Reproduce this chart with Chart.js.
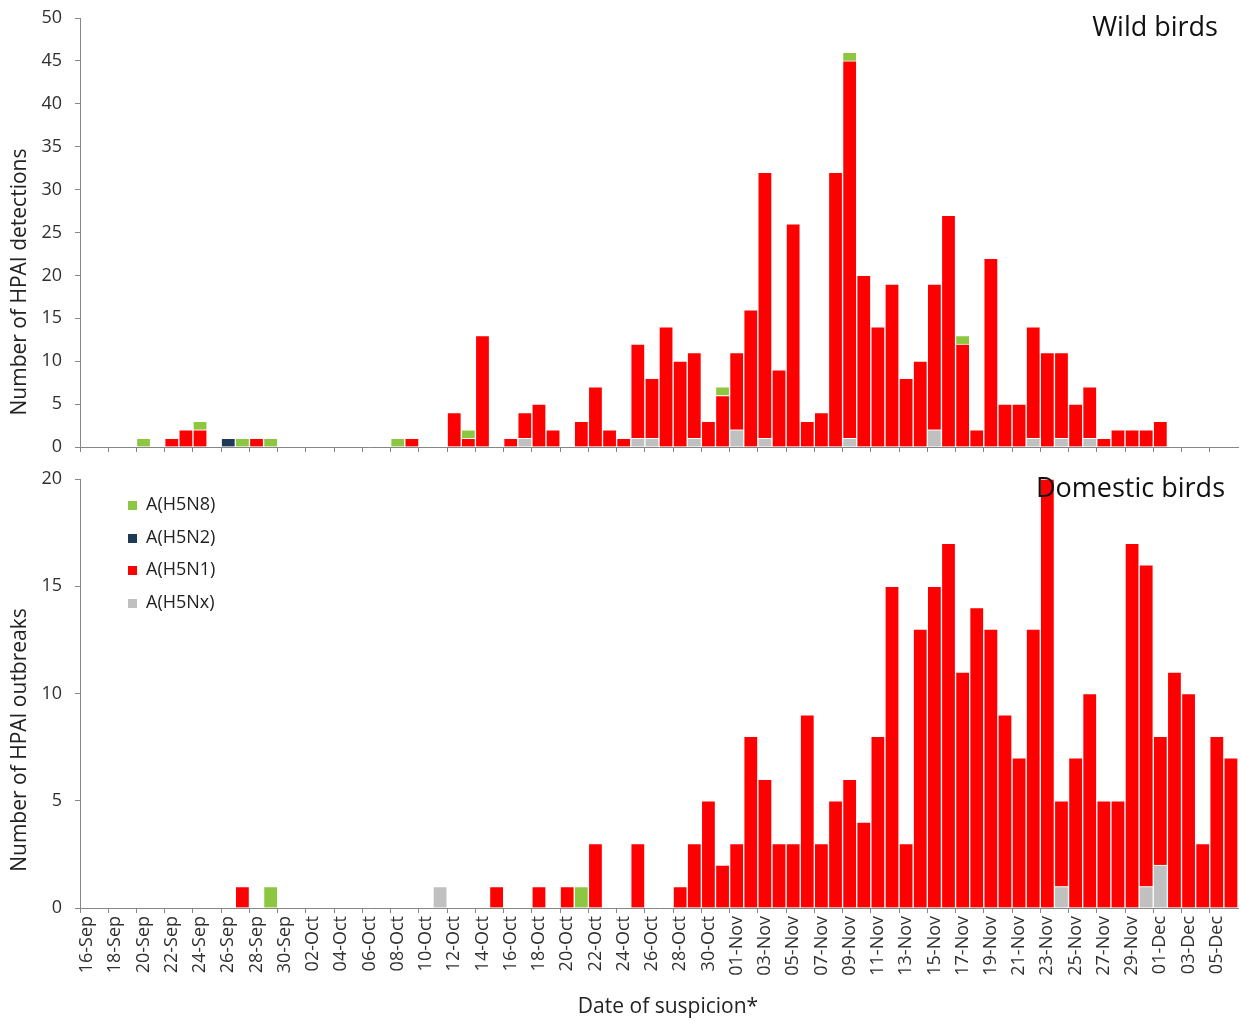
<!DOCTYPE html>
<html>
<head>
<meta charset="utf-8">
<title>HPAI detections</title>
<script src="https://cdn.jsdelivr.net/npm/chart.js@4.4.1/dist/chart.umd.min.js"></script>
<style>
    body { margin: 0; background: #fff; overflow: hidden; font-family: 'Open Sans', sans-serif; }
    #wrap { position: relative; width: 1241px; height: 1021px; }
    canvas { position: absolute; left: 0; }
    #grafico1 { top: 0; }
    #grafico2 { top: 460px; }
    .panel { position: absolute; font-size: 27px; color: #111; white-space: nowrap; }
    .ytitulo { position: absolute; font-size: 21px; color: #222; white-space: nowrap;
               transform: translate(-50%, -50%) rotate(-90deg); }
    .xtitulo { position: absolute; font-size: 21px; color: #222; white-space: nowrap;
               transform: translate(-50%, -50%); }
    #leyenda { position: absolute; left: 128px; top: 487px; font-size: 18px; color: #222; }
    #leyenda div { height: 32.7px; line-height: 32.7px; white-space: nowrap; }
    #leyenda span { display: inline-block; width: 9px; height: 9px; margin-right: 9px; vertical-align: 0px; }
</style>
</head>
<body>
<div id="wrap">
    <canvas id="grafico1" width="1241" height="460"></canvas>
    <canvas id="grafico2" width="1241" height="561"></canvas>
    <div class="panel" style="right:23px; top:7px;">Wild birds</div>
    <div class="panel" style="right:16px; top:468px;">Domestic birds</div>
    <div class="ytitulo" style="left:18px; top:282px;">Number of HPAI detections</div>
    <div class="ytitulo" style="left:18px; top:740px;">Number of HPAI outbreaks</div>
    <div class="xtitulo" style="left:668px; top:1005px;">Date of suspicion*</div>
    <div id="leyenda"></div>
</div>
<script>
/* ---------------------------------- Datos --------------------------------- */
const fechas = [
    '16-Sep', '17-Sep', '18-Sep', '19-Sep', '20-Sep', '21-Sep', '22-Sep', '23-Sep', '24-Sep', '25-Sep',
    '26-Sep', '27-Sep', '28-Sep', '29-Sep', '30-Sep', '01-Oct', '02-Oct', '03-Oct', '04-Oct', '05-Oct',
    '06-Oct', '07-Oct', '08-Oct', '09-Oct', '10-Oct', '11-Oct', '12-Oct', '13-Oct', '14-Oct', '15-Oct',
    '16-Oct', '17-Oct', '18-Oct', '19-Oct', '20-Oct', '21-Oct', '22-Oct', '23-Oct', '24-Oct', '25-Oct',
    '26-Oct', '27-Oct', '28-Oct', '29-Oct', '30-Oct', '31-Oct', '01-Nov', '02-Nov', '03-Nov', '04-Nov',
    '05-Nov', '06-Nov', '07-Nov', '08-Nov', '09-Nov', '10-Nov', '11-Nov', '12-Nov', '13-Nov', '14-Nov',
    '15-Nov', '16-Nov', '17-Nov', '18-Nov', '19-Nov', '20-Nov', '21-Nov', '22-Nov', '23-Nov', '24-Nov',
    '25-Nov', '26-Nov', '27-Nov', '28-Nov', '29-Nov', '30-Nov', '01-Dec', '02-Dec', '03-Dec', '04-Dec',
    '05-Dec', '06-Dec'
];

// Wild birds
const silvH5N8 = [
    0, 0, 0, 0, 1, 0, 0, 0, 1, 0,   0, 1, 0, 1, 0, 0, 0, 0, 0, 0,
    0, 0, 1, 0, 0, 0, 0, 1, 0, 0,   0, 0, 0, 0, 0, 0, 0, 0, 0, 0,
    0, 0, 0, 0, 0, 1, 0, 0, 0, 0,   0, 0, 0, 0, 1, 0, 0, 0, 0, 0,
    0, 0, 1, 0, 0, 0, 0, 0, 0, 0,   0, 0, 0, 0, 0, 0, 0, 0, 0, 0,
    0, 0
];
const silvH5N2 = [
    0, 0, 0, 0, 0, 0, 0, 0, 0, 0,   1, 0, 0, 0, 0, 0, 0, 0, 0, 0,
    0, 0, 0, 0, 0, 0, 0, 0, 0, 0,   0, 0, 0, 0, 0, 0, 0, 0, 0, 0,
    0, 0, 0, 0, 0, 0, 0, 0, 0, 0,   0, 0, 0, 0, 0, 0, 0, 0, 0, 0,
    0, 0, 0, 0, 0, 0, 0, 0, 0, 0,   0, 0, 0, 0, 0, 0, 0, 0, 0, 0,
    0, 0
];
const silvH5N1 = [
    0, 0, 0, 0, 0, 0, 1, 2, 2, 0,   0, 0, 1, 0, 0, 0, 0, 0, 0, 0,
    0, 0, 0, 1, 0, 0, 4, 1, 13, 0,  1, 3, 5, 2, 0, 3, 7, 2, 1, 11,
    7, 14, 10, 10, 3, 6, 9, 16, 31, 9,   26, 3, 4, 32, 44, 20, 14, 19, 8, 10,
    17, 27, 12, 2, 22, 5, 5, 13, 11, 10,   5, 6, 1, 2, 2, 2, 3, 0, 0, 0,
    0, 0
];
const silvH5Nx = [
    0, 0, 0, 0, 0, 0, 0, 0, 0, 0,   0, 0, 0, 0, 0, 0, 0, 0, 0, 0,
    0, 0, 0, 0, 0, 0, 0, 0, 0, 0,   0, 1, 0, 0, 0, 0, 0, 0, 0, 1,
    1, 0, 0, 1, 0, 0, 2, 0, 1, 0,   0, 0, 0, 0, 1, 0, 0, 0, 0, 0,
    2, 0, 0, 0, 0, 0, 0, 1, 0, 1,   0, 1, 0, 0, 0, 0, 0, 0, 0, 0,
    0, 0
];

// Domestic birds
const domH5N8 = [
    0, 0, 0, 0, 0, 0, 0, 0, 0, 0,   0, 0, 0, 1, 0, 0, 0, 0, 0, 0,
    0, 0, 0, 0, 0, 0, 0, 0, 0, 0,   0, 0, 0, 0, 0, 1, 0, 0, 0, 0,
    0, 0, 0, 0, 0, 0, 0, 0, 0, 0,   0, 0, 0, 0, 0, 0, 0, 0, 0, 0,
    0, 0, 0, 0, 0, 0, 0, 0, 0, 0,   0, 0, 0, 0, 0, 0, 0, 0, 0, 0,
    0, 0
];
const domH5N2 = [
    0, 0, 0, 0, 0, 0, 0, 0, 0, 0,   0, 0, 0, 0, 0, 0, 0, 0, 0, 0,
    0, 0, 0, 0, 0, 0, 0, 0, 0, 0,   0, 0, 0, 0, 0, 0, 0, 0, 0, 0,
    0, 0, 0, 0, 0, 0, 0, 0, 0, 0,   0, 0, 0, 0, 0, 0, 0, 0, 0, 0,
    0, 0, 0, 0, 0, 0, 0, 0, 0, 0,   0, 0, 0, 0, 0, 0, 0, 0, 0, 0,
    0, 0
];
const domH5N1 = [
    0, 0, 0, 0, 0, 0, 0, 0, 0, 0,   0, 1, 0, 0, 0, 0, 0, 0, 0, 0,
    0, 0, 0, 0, 0, 0, 0, 0, 0, 1,   0, 0, 1, 0, 1, 0, 3, 0, 0, 3,
    0, 0, 1, 3, 5, 2, 3, 8, 6, 3,   3, 9, 3, 5, 6, 4, 8, 15, 3, 13,
    15, 17, 11, 14, 13, 9, 7, 13, 20, 4,   7, 10, 5, 5, 17, 15, 6, 11, 10, 3,
    8, 7
];
const domH5Nx = [
    0, 0, 0, 0, 0, 0, 0, 0, 0, 0,   0, 0, 0, 0, 0, 0, 0, 0, 0, 0,
    0, 0, 0, 0, 0, 1, 0, 0, 0, 0,   0, 0, 0, 0, 0, 0, 0, 0, 0, 0,
    0, 0, 0, 0, 0, 0, 0, 0, 0, 0,   0, 0, 0, 0, 0, 0, 0, 0, 0, 0,
    0, 0, 0, 0, 0, 0, 0, 0, 0, 1,   0, 0, 0, 0, 0, 1, 2, 0, 0, 0,
    0, 0
];

const colores = { H5N8: '#8dc641', H5N2: '#1f3a56', H5N1: '#ff0000', H5Nx: '#c0c0c0' };
const ejeColor = '#868686';
const fuente = "'Open Sans', sans-serif";

/* --------------------------------- Leyenda -------------------------------- */
let leyenda = document.getElementById('leyenda');
['H5N8', 'H5N2', 'H5N1', 'H5Nx'].forEach((k) => {
    let fila = document.createElement('div');
    fila.innerHTML = `<span style="background:${colores[k]}"></span>A(${k})`;
    leyenda.appendChild(fila);
});

/* --------------------------------- Grafico -------------------------------- */
function series(nx, n1, n2, n8) {
    // orden de apilado: H5Nx abajo, H5N8 arriba
    let lista = [['A(H5Nx)', nx, colores.H5Nx], ['A(H5N1)', n1, colores.H5N1],
                 ['A(H5N2)', n2, colores.H5N2], ['A(H5N8)', n8, colores.H5N8]];
    return lista.map(([label, valores, color]) => ({
        label: label,
        data: valores.map((v) => v || null),
        backgroundColor: color,
        borderColor: '#ffffff',
        borderWidth: 1,
        barPercentage: 1,
        categoryPercentage: 1
    }));
}

function crearGrafico(contenedor, datasets, maxY, conFechas, padTop, altoX) {
    let canvasGrafico = document.getElementById(contenedor);
    return new Chart(canvasGrafico, {
        type: 'bar',
        data: { labels: fechas, datasets: datasets },
        options: {
            responsive: false,
            animation: false,
            devicePixelRatio: 1,
            layout: { padding: { top: padTop, right: 3, left: 0, bottom: 0 } },
            plugins: { legend: { display: false }, tooltip: { enabled: false } },
            scales: {
                x: {
                    stacked: true,
                    offset: true,
                    grid: {
                        offset: true,
                        drawOnChartArea: false,
                        drawTicks: true,
                        tickLength: 5,
                        tickColor: (ctx) => ctx.index % 2 === 0 ? ejeColor : 'rgba(0,0,0,0)'
                    },
                    border: { display: true, color: ejeColor, width: 1 },
                    ticks: {
                        display: conFechas,
                        autoSkip: false,
                        maxRotation: 90,
                        minRotation: 90,
                        padding: 3,
                        color: '#303030',
                        font: { family: fuente, size: 18 },
                        callback: (v, i) => i % 2 === 0 ? fechas[i] : ''
                    },
                    afterFit: (s) => { s.height = altoX; s.paddingLeft = 0; s.paddingRight = 0; }
                },
                y: {
                    stacked: true,
                    min: 0,
                    max: maxY,
                    grid: { drawOnChartArea: false, drawTicks: true, tickLength: 5, tickColor: ejeColor },
                    border: { display: true, color: ejeColor, width: 1 },
                    ticks: {
                        stepSize: 5,
                        padding: 13,
                        color: '#303030',
                        font: { family: fuente, size: 18 }
                    },
                    afterFit: (s) => { s.width = 80; s.paddingTop = 0; s.paddingBottom = 0; }
                }
            }
        }
    });
}

window.addEventListener('load', () => {
    crearGrafico('grafico1', series(silvH5Nx, silvH5N1, silvH5N2, silvH5N8), 50, false, 18, 13);
    crearGrafico('grafico2', series(domH5Nx, domH5N1, domH5N2, domH5N8), 20, true, 19, 113);
});
</script>
</body>
</html>
